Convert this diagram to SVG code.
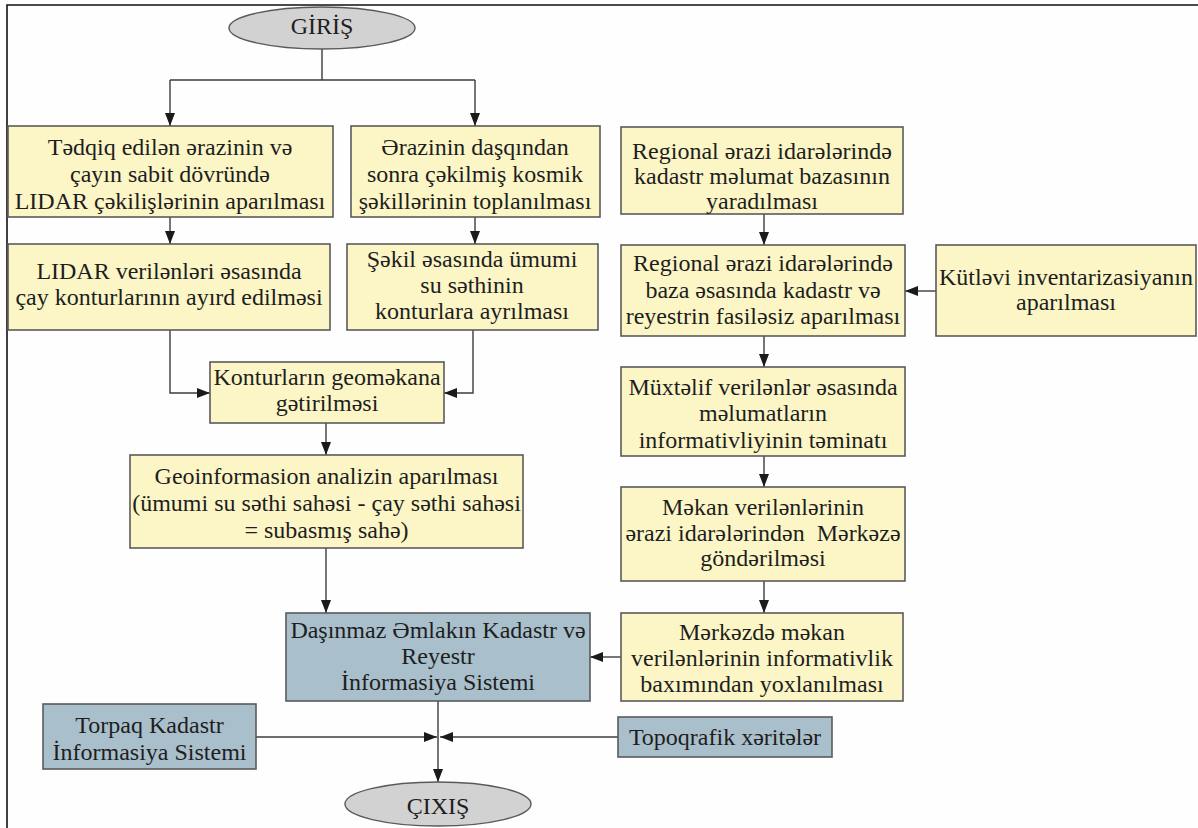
<svg xmlns="http://www.w3.org/2000/svg" width="1198" height="828" viewBox="0 0 1198 828">
<style>
.box{fill:#fcf6c6;stroke:#5a5a5a;stroke-width:1.6}
.sys{fill:#a9bfcb;stroke:#5a5a5a;stroke-width:1.6}
.term{fill:#d2d2d2;stroke:#5a5a5a;stroke-width:1.4}
text{font-family:"Liberation Serif","Times New Roman",serif;font-size:24px;fill:#1e1e1e;text-anchor:middle}
.c path{fill:none;stroke:#3c3c3c;stroke-width:1.4}
.arr{marker-end:url(#ah)}
</style>
<defs>
<marker id="ah" viewBox="0 0 13 10" refX="13" refY="5" markerWidth="13" markerHeight="10" markerUnits="userSpaceOnUse" orient="auto">
<path d="M0,0 L13,5 L0,10 z" fill="#1a1a1a"/>
</marker>
</defs>
<rect x="0" y="0" width="1198" height="828" fill="#fefefe"/>
<path d="M7,828 V5 H1198" fill="none" stroke="#111" stroke-width="1.6"/>

<g class="c" id="connectors">
<path d="M322,49 V80 M170,80 H475"/>
<path class="arr" d="M170,80 V126"/>
<path class="arr" d="M475,80 V126"/>
<path class="arr" d="M170,217 V244"/>
<path class="arr" d="M475,217 V244"/>
<path class="arr" d="M764,214 V245"/>
<path class="arr" d="M170,330 V393 H210"/>
<path class="arr" d="M473,330 V393 H444"/>
<path class="arr" d="M326,423 V455"/>
<path class="arr" d="M936,291 H905"/>
<path class="arr" d="M764,336 V367"/>
<path class="arr" d="M764,456 V487"/>
<path class="arr" d="M764,581 V613"/>
<path class="arr" d="M621,657 H590"/>
<path class="arr" d="M326,548 V613"/>
<path class="arr" d="M438,701 V782"/>
<path class="arr" d="M256,737 H437"/>
<path class="arr" d="M618,737 H440"/>
</g>

<g id="giris"><ellipse class="term" cx="322" cy="28" rx="93" ry="21"/><text x="322" y="34">GİRİŞ</text></g>

<g id="nodeA"><rect class="box" x="8" y="126" width="325" height="91"/>
<text x="170" y="155">Tədqiq edilən ərazinin və</text>
<text x="170" y="182">çayın sabit dövründə</text>
<text x="170" y="209">LIDAR çəkilişlərinin aparılması</text></g>

<g id="nodeB"><rect class="box" x="351" y="126" width="249" height="91"/>
<text x="475" y="155">Ərazinin daşqından</text>
<text x="475" y="182">sonra çəkilmiş kosmik</text>
<text x="475" y="209">şəkillərinin toplanılması</text></g>

<g id="nodeC"><rect class="box" x="621" y="127" width="282" height="87"/>
<text x="762" y="159">Regional ərazi idarələrində</text>
<text x="762" y="184">kadastr məlumat bazasının</text>
<text x="762" y="209">yaradılması</text></g>

<g id="nodeD"><rect class="box" x="8" y="244" width="322" height="86"/>
<text x="169" y="279">LIDAR verilənləri əsasında</text>
<text x="169" y="305">çay konturlarının ayırd edilməsi</text></g>

<g id="nodeE"><rect class="box" x="347" y="244" width="251" height="86"/>
<text x="472" y="267">Şəkil əsasında ümumi</text>
<text x="472" y="293">su səthinin</text>
<text x="472" y="319">konturlara ayrılması</text></g>

<g id="nodeF"><rect class="box" x="621" y="245" width="284" height="91"/>
<text x="763" y="271">Regional ərazi idarələrində</text>
<text x="763" y="298">baza əsasında kadastr və</text>
<text x="763" y="324">reyestrin fasiləsiz aparılması</text></g>

<g id="nodeG"><rect class="box" x="936" y="245" width="260" height="91"/>
<text x="1066" y="285">Kütləvi inventarizasiyanın</text>
<text x="1066" y="310">aparılması</text></g>

<g id="nodeH"><rect class="box" x="210" y="362" width="234" height="61"/>
<text x="327" y="385">Konturların geoməkana</text>
<text x="327" y="411">gətirilməsi</text></g>

<g id="nodeI"><rect class="box" x="130" y="455" width="393" height="93"/>
<text x="326.5" y="484">Geoinformasion analizin aparılması</text>
<text x="326.5" y="511">(ümumi su səthi sahəsi - çay səthi sahəsi</text>
<text x="326.5" y="538">= subasmış sahə)</text></g>

<g id="nodeJ"><rect class="box" x="621" y="367" width="284" height="89"/>
<text x="763" y="395">Müxtəlif verilənlər əsasında</text>
<text x="763" y="421">məlumatların</text>
<text x="763" y="448">informativliyinin təminatı</text></g>

<g id="nodeK"><rect class="box" x="621" y="487" width="284" height="94"/>
<text x="763" y="515">Məkan verilənlərinin</text>
<text x="763" y="541" xml:space="preserve">ərazi idarələrindən  Mərkəzə</text>
<text x="763" y="566">göndərilməsi</text></g>

<g id="nodeL"><rect class="box" x="621" y="613" width="282" height="88"/>
<text x="762" y="640">Mərkəzdə məkan</text>
<text x="762" y="666">verilənlərinin informativlik</text>
<text x="762" y="692">baxımından yoxlanılması</text></g>

<g id="nodeM"><rect class="sys" x="286" y="613" width="304" height="88"/>
<text x="438" y="638">Daşınmaz Əmlakın Kadastr və</text>
<text x="438" y="664">Reyestr</text>
<text x="438" y="690">İnformasiya Sistemi</text></g>

<g id="nodeN"><rect class="sys" x="43" y="704" width="213" height="65"/>
<text x="149.5" y="733">Torpaq Kadastr</text>
<text x="149.5" y="760">İnformasiya Sistemi</text></g>

<g id="nodeO"><rect class="sys" x="618" y="717" width="214" height="40"/>
<text x="725" y="745">Topoqrafik xəritələr</text></g>

<g id="cixis"><ellipse class="term" cx="438" cy="804" rx="93" ry="22"/><text x="438" y="814">ÇIXIŞ</text></g>
</svg>
